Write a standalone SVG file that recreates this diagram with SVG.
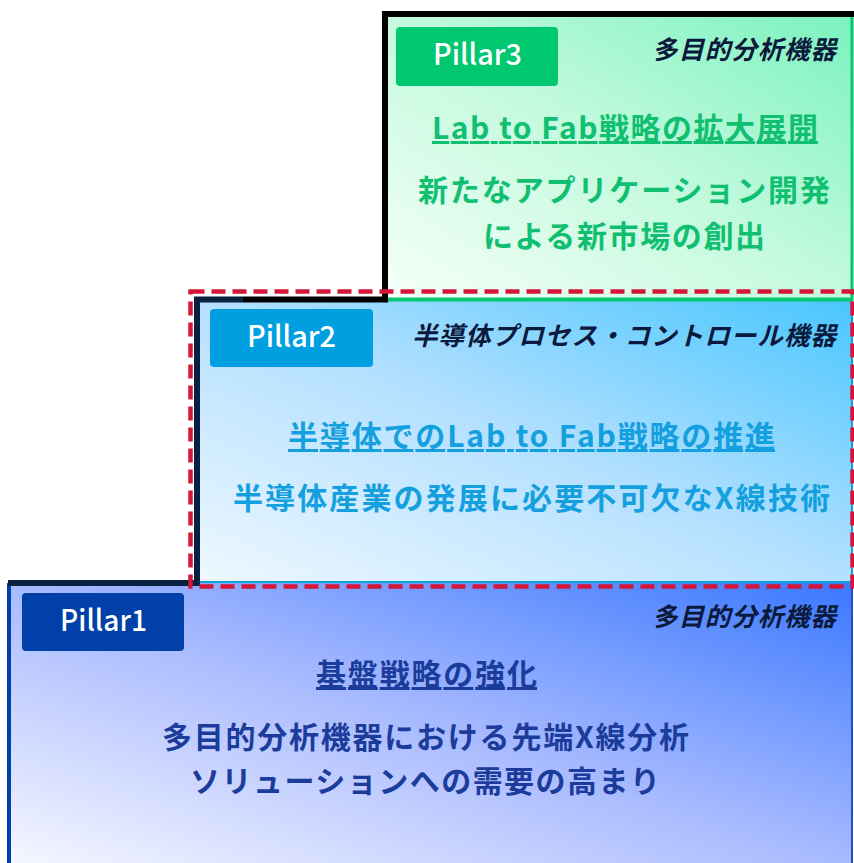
<svg xmlns="http://www.w3.org/2000/svg" width="854" height="863" viewBox="0 0 854 863">
<defs>
<linearGradient id="g1" x1="0" y1="1" x2="1" y2="0">
<stop offset="0" stop-color="#f6f7ff"/><stop offset="0.5" stop-color="#a8baff"/><stop offset="1" stop-color="#3a78ff"/>
</linearGradient>
<linearGradient id="g2" x1="0" y1="1" x2="1" y2="0">
<stop offset="0" stop-color="#eef8ff"/><stop offset="0.5" stop-color="#b4e0ff"/><stop offset="1" stop-color="#48c6ff"/>
</linearGradient>
<linearGradient id="g3" x1="0" y1="1" x2="1" y2="0">
<stop offset="0" stop-color="#f6fff9"/><stop offset="0.5" stop-color="#c4fade"/><stop offset="1" stop-color="#7af2be"/>
</linearGradient>
<style>
.jp{font-family:"Noto Sans CJK JP","Noto Sans",sans-serif;font-weight:700}
.lab{font-family:"Noto Sans CJK JP","Noto Sans",sans-serif;font-weight:500;font-size:29px;fill:#ffffff}
.tag{font-family:"Noto Sans CJK JP",sans-serif;font-weight:700;font-style:italic;font-size:25.5px;fill:#0b1a3c}
.t3{fill:#10c070;font-size:30px}
.t2{fill:#14a0de;font-size:30px}
.t1{fill:#1c3c9c;font-size:30px}
.u{text-decoration:underline}
</style>
</defs>

<g id="pillar1">
<rect x="8" y="583" width="845" height="282" fill="url(#g1)"/>
<line x1="852" y1="583" x2="852" y2="863" stroke="#2050c0" stroke-width="2"/>
<line x1="9" y1="583" x2="9" y2="863" stroke="#0040b0" stroke-width="4"/>
<rect x="22" y="593" width="162" height="58" rx="4" fill="#0040a8"/>
<text class="lab" x="60" y="631" textLength="87" lengthAdjust="spacingAndGlyphs">Pillar1</text>
<text class="tag" x="652" y="626" textLength="184" lengthAdjust="spacing">多目的分析機器</text>
<text class="jp t1 u" x="316" y="685" textLength="221" lengthAdjust="spacing">基盤戦略の強化</text>
<text class="jp t1" x="162" y="748" textLength="527" lengthAdjust="spacing">多目的分析機器における先端X線分析</text>
<text class="jp t1" x="190" y="792" textLength="470" lengthAdjust="spacing">ソリューションへの需要の高まり</text>
</g>

<g id="pillar2">
<rect x="197" y="299" width="655" height="283" fill="url(#g2)" stroke="#10a0dc" stroke-width="2"/>
<rect x="210" y="309" width="163" height="58" rx="4" fill="#00a0e0"/>
<text class="lab" x="247" y="347" textLength="89" lengthAdjust="spacingAndGlyphs">Pillar2</text>
<text class="tag" x="412" y="345" textLength="424" lengthAdjust="spacing">半導体プロセス・コントロール機器</text>
<text class="jp t2 u" x="288" y="447" textLength="487" lengthAdjust="spacing">半導体でのLab to Fab戦略の推進</text>
<text class="jp t2" x="233" y="509" textLength="597" lengthAdjust="spacing">半導体産業の発展に必要不可欠なX線技術</text>
</g>

<g id="pillar3">
<rect x="385" y="14" width="467" height="285.5" fill="url(#g3)" stroke="#00c870" stroke-width="3"/>
<line x1="386" y1="299.5" x2="853" y2="299.5" stroke="#00c870" stroke-width="4"/>
<rect x="396" y="27" width="162" height="59" rx="4" fill="#00c870"/>
<text class="lab" x="433" y="65" textLength="89" lengthAdjust="spacingAndGlyphs">Pillar3</text>
<text class="tag" x="652" y="59" textLength="184" lengthAdjust="spacing">多目的分析機器</text>
<text class="jp t3 u" x="432" y="139" textLength="386" lengthAdjust="spacing">Lab to Fab戦略の拡大展開</text>
<text class="jp t3" x="418" y="201" textLength="412" lengthAdjust="spacing">新たなアプリケーション開発</text>
<text class="jp t3" x="483" y="247" textLength="282" lengthAdjust="spacing">による新市場の創出</text>
</g>

<g id="connectors">
<path d="M8,583 H197 V299.5 H243" fill="none" stroke="#0a2040" stroke-width="6"/>
<path d="M243,299.5 H385 V14 H854" fill="none" stroke="#000000" stroke-width="6"/>
<rect x="190.5" y="291.5" width="662" height="295" fill="none" stroke="#d41638" stroke-width="4.5" stroke-dasharray="14 7"/>
</g>
</svg>
